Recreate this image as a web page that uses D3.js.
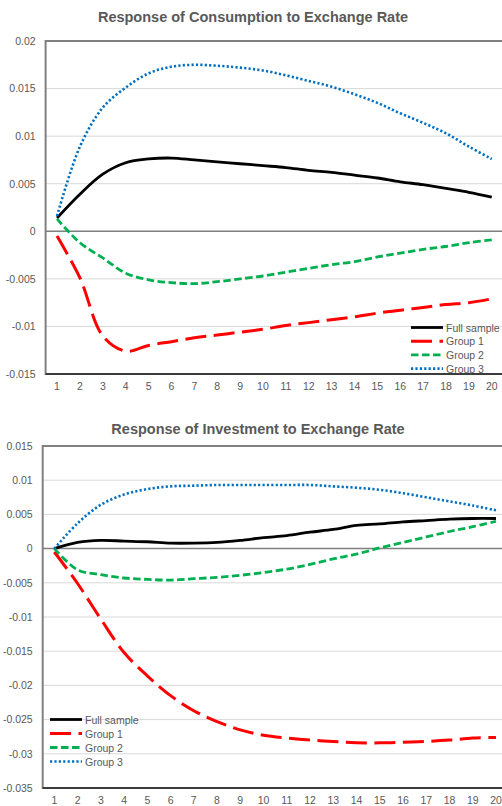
<!DOCTYPE html>
<html>
<head>
<meta charset="utf-8">
<script src="https://cdn.jsdelivr.net/npm/d3@7"></script>
<style>
  body { margin: 0; background: #fff; }
  svg { display: block; font-family: "Liberation Sans", Arial, sans-serif; }
</style>
</head>
<body>
<svg id="chart" width="502" height="806"></svg>
<script>
// horizon (periods after the shock)
const periods = [1, 2, 3, 4, 5, 6, 7, 8, 9, 10, 11, 12, 13, 14, 15, 16, 17, 18, 19, 20];
const seriesNames = ['Full sample', 'Group 1', 'Group 2', 'Group 3'];

// Response of Consumption to Exchange Rate
const consFull   = [0.0014, 0.0039, 0.0060, 0.0072, 0.0076, 0.0077, 0.0075, 0.0073, 0.0071, 0.0069,
                    0.0067, 0.0064, 0.0062, 0.0059, 0.0056, 0.0052, 0.0049, 0.0045, 0.0041, 0.0036];
const consGroup1 = [-0.0005, -0.0049, -0.0110, -0.0126, -0.0120, -0.0116, -0.0112, -0.0109, -0.0106, -0.0103,
                    -0.0099, -0.0096, -0.0093, -0.0090, -0.0086, -0.0083, -0.0080, -0.0077, -0.0075, -0.0071];
const consGroup2 = [0.0013, -0.0012, -0.0028, -0.0044, -0.0051, -0.0054, -0.0055, -0.0053, -0.0050, -0.0047,
                    -0.0043, -0.0039, -0.0035, -0.0032, -0.0027, -0.0023, -0.0019, -0.0016, -0.0012, -0.0009];
const consGroup3 = [0.0016, 0.0089, 0.0130, 0.0151, 0.0166, 0.0173, 0.0175, 0.0174, 0.0172, 0.0169,
                    0.0164, 0.0158, 0.0152, 0.0144, 0.0135, 0.0124, 0.0114, 0.0103, 0.0089, 0.0076];
const consTicks  = [0.02, 0.015, 0.01, 0.005, 0, -0.005, -0.01, -0.015];

// Response of Investment to Exchange Rate
const invFull    = [0.0000, 0.0009, 0.0012, 0.0011, 0.0010, 0.0008, 0.0008, 0.0009, 0.0012, 0.0016,
                    0.0019, 0.0024, 0.0028, 0.0034, 0.0036, 0.0039, 0.0041, 0.0043, 0.0044, 0.0044];
const invGroup1  = [-0.0005, -0.0051, -0.0103, -0.0152, -0.0186, -0.0215, -0.0237, -0.0253, -0.0265, -0.0273,
                    -0.0277, -0.0280, -0.0282, -0.0284, -0.0284, -0.0283, -0.0282, -0.0280, -0.0277, -0.0276];
const invGroup2  = [0.0000, -0.0031, -0.0038, -0.0043, -0.0045, -0.0046, -0.0044, -0.0042, -0.0039, -0.0035,
                    -0.0030, -0.0023, -0.0015, -0.0008, 0.0001, 0.0009, 0.0017, 0.0025, 0.0032, 0.0040];
const invGroup3  = [0.0000, 0.0037, 0.0064, 0.0079, 0.0087, 0.0091, 0.0092, 0.0093, 0.0093, 0.0093,
                    0.0093, 0.0093, 0.0091, 0.0089, 0.0086, 0.0081, 0.0075, 0.0069, 0.0063, 0.0056];
const invTicks   = [0.015, 0.01, 0.005, 0, -0.005, -0.01, -0.015, -0.02, -0.025, -0.03, -0.035];

const seriesStyle = [
    { color: '#000000', width: 2.8, dash: null },
    { color: '#ff0000', width: 3,   dash: '21,7.5' },
    { color: '#00b050', width: 2.8, dash: '7.5,3.5' },
    { color: '#0070c0', width: 2.6, dash: '2.2,2.2' }
];

const textColor = '#595959';
const svg = d3.select('#chart');

function fmt(v) {
    return String(+v.toFixed(3));
}

function drawChart(opts) {
    const g = svg.append('g');

    const x = d3.scaleBand()
        .domain(periods)
        .range([opts.left, opts.right])
        .padding(0);

    const y = d3.scaleLinear()
        .domain([opts.ticks[opts.ticks.length - 1], opts.ticks[0]])
        .range([opts.bottom, opts.top]);

    const cx = d => x(d) + x.bandwidth() / 2;

    // title
    g.append('text')
        .attr('x', opts.titleX)
        .attr('y', opts.titleY)
        .attr('text-anchor', 'middle')
        .style('font-size', '14.5px')
        .style('font-weight', 'bold')
        .attr('fill', textColor)
        .text(opts.title);

    // gridlines
    g.append('g')
        .selectAll('line')
        .data(opts.ticks.filter(t => t !== 0))
        .enter()
        .append('line')
        .attr('x1', opts.left)
        .attr('x2', opts.right)
        .attr('y1', d => y(d))
        .attr('y2', d => y(d))
        .attr('stroke', '#d9d9d9')
        .attr('stroke-width', 1);

    // y tick labels
    g.append('g')
        .attr('transform', `translate(${opts.left},0)`)
        .call(d3.axisLeft(y).tickValues(opts.ticks).tickFormat(fmt).tickSize(0).tickPadding(opts.labelPad))
        .call(a => a.select('.domain').remove())
        .selectAll('text')
        .attr('fill', textColor)
        .style('font-family', '"Liberation Sans", Arial, sans-serif')
        .style('font-size', '10.5px');

    // x tick labels
    g.append('g')
        .attr('transform', `translate(0,${opts.bottom})`)
        .call(d3.axisBottom(x).tickSize(0).tickPadding(opts.xPad))
        .call(a => a.select('.domain').remove())
        .selectAll('text')
        .attr('fill', textColor)
        .style('font-family', '"Liberation Sans", Arial, sans-serif')
        .style('font-size', '10.5px');

    // plot area border
    g.append('rect')
        .attr('x', opts.left)
        .attr('y', opts.top)
        .attr('width', opts.right - opts.left)
        .attr('height', opts.bottom - opts.top)
        .attr('fill', 'none')
        .attr('stroke', '#808080')
        .attr('stroke-width', 2);

    g.append('line')
        .attr('x1', opts.left)
        .attr('x2', opts.right)
        .attr('y1', opts.bottom)
        .attr('y2', opts.bottom)
        .attr('stroke', '#262626')
        .attr('stroke-width', 1.5);

    // zero line
    g.append('line')
        .attr('x1', opts.left)
        .attr('x2', opts.right)
        .attr('y1', y(0))
        .attr('y2', y(0))
        .attr('stroke', '#7f7f7f')
        .attr('stroke-width', 1.5);

    const line = d3.line()
        .x((d, i) => cx(periods[i]))
        .y(d => y(d))
        .curve(d3.curveCatmullRom.alpha(0.5));

    opts.series.forEach((s, i) => {
        const st = seriesStyle[i];
        g.append('path')
            .datum(s)
            .attr('fill', 'none')
            .attr('stroke', st.color)
            .attr('stroke-width', st.width)
            .attr('stroke-dasharray', st.dash)
            .attr('stroke-linejoin', 'round')
            .attr('d', line);
    });

    // legend
    const legend = g.append('g')
        .attr('transform', `translate(${opts.legendX},${opts.legendY})`);

    seriesNames.forEach((name, i) => {
        const st = seriesStyle[i];
        const item = legend.append('g')
            .attr('transform', `translate(0,${i * opts.legendStep})`);
        item.append('line')
            .attr('x1', 0)
            .attr('x2', 32)
            .attr('y1', 0)
            .attr('y2', 0)
            .attr('stroke', st.color)
            .attr('stroke-width', st.width)
            .attr('stroke-dasharray', st.dash);
        item.append('text')
            .attr('x', 35)
            .attr('y', 4)
            .attr('fill', textColor)
            .style('font-size', '10.5px')
            .text(name);
    });
}

drawChart({
    title: 'Response of Consumption to Exchange Rate',
    titleX: 253, titleY: 22,
    left: 45.6, right: 503.2, top: 41, bottom: 374,
    ticks: consTicks,
    labelPad: 10, xPad: 9,
    series: [consFull, consGroup1, consGroup2, consGroup3],
    legendX: 411, legendY: 327.5, legendStep: 13.7
});

drawChart({
    title: 'Response of Investment to Exchange Rate',
    titleX: 258, titleY: 434,
    left: 42.7, right: 507.6, top: 446, bottom: 788,
    ticks: invTicks,
    labelPad: 10, xPad: 9,
    series: [invFull, invGroup1, invGroup2, invGroup3],
    legendX: 50, legendY: 719.5, legendStep: 14
});
</script>
</body>
</html>
